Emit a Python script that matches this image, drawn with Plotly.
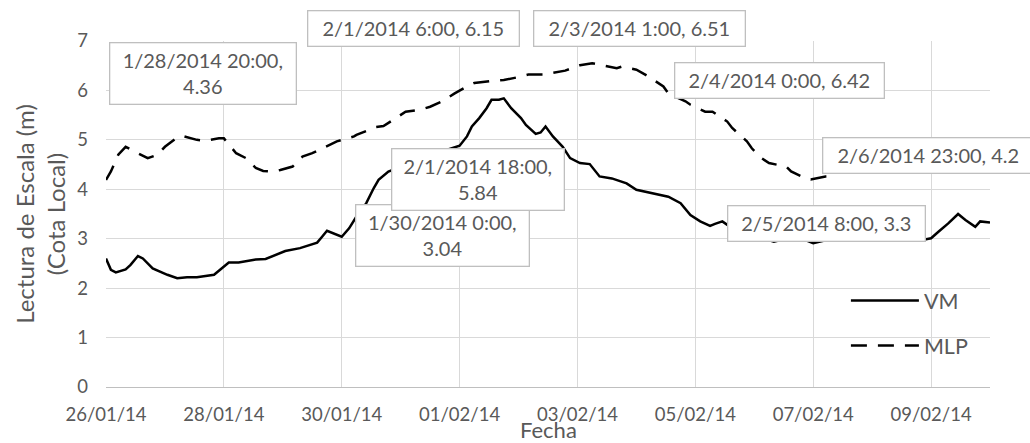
import plotly.graph_objects as go
from datetime import datetime

# ---------------- data ----------------
vm_time = [
    "2014-01-26 00:00", "2014-01-26 02:00", "2014-01-26 04:00", "2014-01-26 08:00",
    "2014-01-26 10:00", "2014-01-26 13:00", "2014-01-26 15:00", "2014-01-26 19:00",
    "2014-01-27 01:00", "2014-01-27 05:00", "2014-01-27 09:00", "2014-01-27 13:00",
    "2014-01-27 20:00", "2014-01-27 22:00", "2014-01-28 02:00", "2014-01-28 06:00",
    "2014-01-28 09:00", "2014-01-28 13:00", "2014-01-28 17:00", "2014-01-28 21:00",
    "2014-01-29 01:00", "2014-01-29 07:00", "2014-01-29 10:00", "2014-01-29 14:00",
    "2014-01-29 16:00", "2014-01-29 18:00", "2014-01-30 00:00", "2014-01-30 03:00",
    "2014-01-30 06:00", "2014-01-30 10:00", "2014-01-30 13:00", "2014-01-30 15:00",
    "2014-01-30 19:00", "2014-01-31 05:00", "2014-01-31 14:00", "2014-02-01 00:00",
    "2014-02-01 03:00", "2014-02-01 05:00", "2014-02-01 08:00", "2014-02-01 11:00",
    "2014-02-01 13:00", "2014-02-01 16:00", "2014-02-01 18:00", "2014-02-01 21:00",
    "2014-02-02 01:00", "2014-02-02 03:00", "2014-02-02 07:00", "2014-02-02 09:00",
    "2014-02-02 11:00", "2014-02-02 14:00", "2014-02-02 18:00", "2014-02-02 21:00",
    "2014-02-03 01:00", "2014-02-03 05:00", "2014-02-03 09:00", "2014-02-03 14:00",
    "2014-02-03 20:00", "2014-02-04 00:00", "2014-02-04 04:00", "2014-02-04 09:00",
    "2014-02-04 13:00", "2014-02-04 18:00", "2014-02-04 22:00", "2014-02-05 02:00",
    "2014-02-05 06:00", "2014-02-05 08:00", "2014-02-05 11:00", "2014-02-05 13:00",
    "2014-02-05 22:00", "2014-02-06 08:00", "2014-02-06 17:00", "2014-02-07 00:00",
    "2014-02-07 12:00", "2014-02-08 00:00", "2014-02-08 12:00", "2014-02-08 22:00",
    "2014-02-09 00:00", "2014-02-09 03:00", "2014-02-09 07:00", "2014-02-09 11:00",
    "2014-02-09 14:00", "2014-02-09 18:00", "2014-02-09 20:00", "2014-02-10 00:00",
]
vm_value = [
    2.60, 2.37, 2.32, 2.38,
    2.47, 2.65, 2.60, 2.40,
    2.27, 2.20, 2.22, 2.22,
    2.27, 2.35, 2.52, 2.52,
    2.54, 2.58, 2.59, 2.67,
    2.75, 2.81, 2.86, 2.92,
    3.04, 3.16, 3.04, 3.21,
    3.45, 3.72, 4.02, 4.19,
    4.36, 4.55, 4.72, 4.88,
    5.07, 5.27, 5.44, 5.64,
    5.81, 5.81, 5.84, 5.64,
    5.44, 5.30, 5.12, 5.15,
    5.27, 5.07, 4.86, 4.63,
    4.53, 4.51, 4.26, 4.22,
    4.12, 3.99, 3.95, 3.89,
    3.85, 3.72, 3.48, 3.35,
    3.26, 3.30, 3.35, 3.28,
    3.10, 2.94, 3.05, 2.91,
    3.05, 3.10, 3.05, 2.99,
    3.01, 3.14, 3.31, 3.50,
    3.38, 3.24, 3.35, 3.33,
]

mlp_time = [
    "2014-01-26 00:00", "2014-01-26 02:00", "2014-01-26 05:00", "2014-01-26 08:00",
    "2014-01-26 13:00", "2014-01-26 17:00", "2014-01-26 21:00", "2014-01-27 00:00",
    "2014-01-27 05:00", "2014-01-27 07:00", "2014-01-27 13:00", "2014-01-27 16:00",
    "2014-01-27 22:00", "2014-01-28 00:00", "2014-01-28 05:00", "2014-01-28 09:00",
    "2014-01-28 13:00", "2014-01-28 16:00", "2014-01-28 20:00", "2014-01-28 23:00",
    "2014-01-29 04:00", "2014-01-29 08:00", "2014-01-29 12:00", "2014-01-29 19:00",
    "2014-01-29 22:00", "2014-01-30 05:00", "2014-01-30 06:00", "2014-01-30 14:00",
    "2014-01-30 17:00", "2014-01-30 23:00", "2014-01-31 02:00", "2014-01-31 08:00",
    "2014-01-31 12:00", "2014-01-31 17:00", "2014-01-31 22:00", "2014-02-01 03:00",
    "2014-02-01 06:00", "2014-02-01 14:00", "2014-02-01 18:00", "2014-02-02 00:00",
    "2014-02-02 04:00", "2014-02-02 10:00", "2014-02-02 13:00", "2014-02-02 19:00",
    "2014-02-03 01:00", "2014-02-03 06:00", "2014-02-03 09:00", "2014-02-03 16:00",
    "2014-02-03 18:00", "2014-02-04 00:00", "2014-02-04 05:00", "2014-02-04 11:00",
    "2014-02-04 13:00", "2014-02-04 20:00", "2014-02-04 22:00", "2014-02-05 04:00",
    "2014-02-05 07:00", "2014-02-05 13:00", "2014-02-05 15:00", "2014-02-05 21:00",
    "2014-02-05 23:00", "2014-02-06 03:00", "2014-02-06 06:00", "2014-02-06 13:00",
    "2014-02-06 15:00", "2014-02-06 21:00", "2014-02-06 23:00", "2014-02-07 05:00",
    "2014-02-07 09:00",
]
mlp_value = [
    4.19, 4.36, 4.70, 4.86,
    4.73, 4.63, 4.70, 4.86,
    5.05, 5.08, 5.00, 4.98,
    5.03, 5.03, 4.73, 4.63,
    4.43, 4.37, 4.36, 4.39,
    4.46, 4.66, 4.73, 4.90,
    4.97, 5.07, 5.10, 5.26,
    5.28, 5.47, 5.57, 5.61,
    5.67, 5.78, 5.94, 6.08,
    6.15, 6.20, 6.21, 6.27,
    6.32, 6.32, 6.35, 6.40,
    6.51, 6.55, 6.52, 6.45,
    6.48, 6.42, 6.28, 6.08,
    5.94, 5.78, 5.71, 5.57,
    5.57, 5.37, 5.24, 4.97,
    4.83, 4.63, 4.53, 4.46,
    4.36, 4.22, 4.20, 4.26,
    4.26,
]

# data labels (series, time, value)
label_series = ["VM", "VM", "VM", "MLP", "MLP", "MLP", "MLP", "MLP"]
label_time = ["2014-01-30 00:00", "2014-02-01 18:00", "2014-02-05 08:00",
              "2014-01-28 20:00", "2014-02-01 06:00", "2014-02-03 01:00",
              "2014-02-04 00:00", "2014-02-06 23:00"]
label_value = [3.04, 5.84, 3.3, 4.36, 6.15, 6.51, 6.42, 4.2]

x_tick_start = "2014-01-26"
x_range = ["2014-01-26 00:00", "2014-02-10 00:00"]
y_range = [0, 7]

# ---------------- style ----------------
FONT = "Lato, sans-serif"
GRAY = "#595959"
GRID = "#d9d9d9"

label_wrap = [True, True, False, True, False, False, False, False]
label_shift = [(101, 1), (-26, -81), (112, 0), (-70, 98), (-61, 55),
               (60, 37), (143, -11), (118, 24)]
label_boxw = [174, 173, 198, 187, 212, 212, 210, 212]

fig = go.Figure()
fig.add_trace(go.Scatter(x=vm_time, y=vm_value, name="VM", mode="lines",
                         line=dict(color="black", width=2.5), legendgroup="a"))
fig.add_trace(go.Scatter(x=mlp_time, y=mlp_value, name="MLP", mode="lines",
                         line=dict(color="black", width=2.5, dash="16px,11px"),
                         legendgroup="b"))

annotations = []
for s, t, v, wrap, (dx, dy), bw in zip(label_series, label_time, label_value,
                                       label_wrap, label_shift, label_boxw):
    dt = datetime.strptime(t, "%Y-%m-%d %H:%M")
    head = f"{dt.month}/{dt.day}/{dt.year} {dt.hour}:{dt.minute:02d},"
    txt = head + ("<br>" if wrap else " ") + f"{v:g}"
    annotations.append(dict(
        x=t, y=v, xref="x", yref="y", text=txt, showarrow=False,
        xshift=dx, yshift=dy, font=dict(family=FONT, size=20, color=GRAY),
        bgcolor="white", bordercolor="#bfbfbf", borderwidth=1.3, borderpad=5,
        width=bw - 12, align="center"))

# x-axis title placed just under the tick labels
annotations.append(dict(
    text="Fecha", xref="paper", yref="paper", x=0.5, y=-0.122,
    xanchor="center", yanchor="middle", showarrow=False,
    font=dict(family=FONT, size=22, color=GRAY)))

fig.update_layout(
    width=1030, height=443,
    margin=dict(l=106, r=40, t=41, b=56, autoexpand=False),
    paper_bgcolor="white", plot_bgcolor="white",
    font=dict(family=FONT, color=GRAY),
    showlegend=True,
    legend=dict(x=0.837, y=0.309, xanchor="left", yanchor="top",
                bgcolor="rgba(0,0,0,0)", itemwidth=68, tracegroupgap=14,
                font=dict(family=FONT, size=21.5, color=GRAY)),
    annotations=annotations,
)
fig.update_xaxes(
    type="date", range=x_range, tick0=x_tick_start, dtick=2 * 86400000,
    tickformat="%d/%m/%y", showgrid=True, gridcolor=GRID, gridwidth=1.3,
    showline=True, linecolor="#bfbfbf", linewidth=1.3, zeroline=False,
    tickfont=dict(family=FONT, size=18.5, color=GRAY), ticks="",
    ticklabelstandoff=11,
)
fig.update_yaxes(
    range=y_range, dtick=1, showgrid=True, gridcolor=GRID, gridwidth=1.3,
    showline=False, zeroline=False,
    tickfont=dict(family=FONT, size=18.5, color=GRAY), ticks="",
    ticklabelstandoff=17,
    title=dict(text="Lectura de Escala (m)<br>(Cota Local)",
               font=dict(family=FONT, size=24, color=GRAY), standoff=4),
)

fig.write_html(
    "out.html",
    config={"displayModeBar": False},
    post_script="document.body.style.margin='0';document.body.style.padding='0';",
)
